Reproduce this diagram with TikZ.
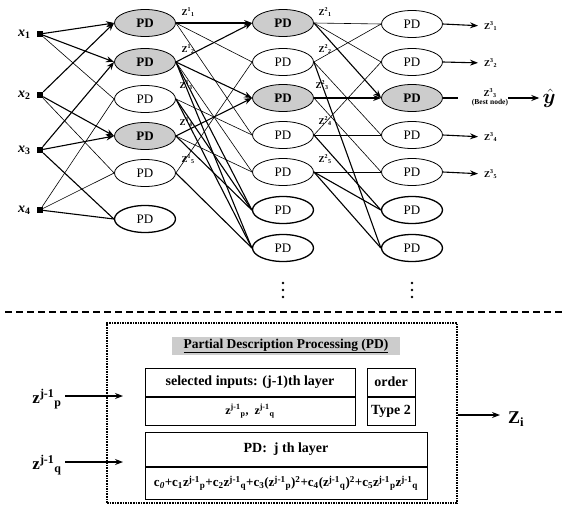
\documentclass[tikz,border=0pt]{standalone}
\usepackage{fontspec}
\setmainfont{Liberation Serif}
\usepackage{bm}
\usetikzlibrary{arrows.meta,positioning,shapes.geometric}
\newcommand{\zz}[2]{Z\textsuperscript{#1}\textsubscript{#2}}
\newcommand{\zs}[1]{z\textsuperscript{j-1}\textsubscript{#1}}
\newcommand{\xin}[1]{\textit{x}\textsubscript{#1}}

\begin{document}
\begin{tikzpicture}[x=1pt, y=-1pt,
  pd/.style={draw, ellipse, minimum width=61pt, minimum height=27pt, inner sep=0pt, line width=0.8pt, font=\fontsize{13}{13}\selectfont},
  pdsel/.style={pd, fill=gray!40, font=\fontsize{13}{13}\selectfont\bfseries},
  pdb/.style={pd, line width=1.3pt},
  inp/.style={fill, minimum size=6pt, inner sep=0pt},
  xl/.style={font=\fontsize{14}{14}\selectfont\bfseries, inner sep=0pt},
  zl/.style={font=\fontsize{9}{9}\selectfont\bfseries, inner sep=0pt},
  arr/.style={-{Stealth[length=8pt,width=6pt]}, line width=1.1pt},
  thk/.style={line width=1.1pt},
  lnk/.style={line width=0.6pt},
  dotc/.style={fill, circle, minimum size=2.6pt, inner sep=0pt},
  cell/.style={draw, line width=1pt, inner sep=0pt, font=\fontsize{14}{14}\selectfont\bfseries},
]
  \useasboundingbox (0,0) rectangle (573,506);

  % inputs
  \node[inp] (x1) at (40,34) {};
  \node[inp] (x2) at (40,95) {};
  \node[inp] (x3) at (40,150) {};
  \node[inp] (x4) at (40,210) {};
  \node[xl, left=6pt of x1] (lx1) {\xin{1}};
  \node[xl, left=6pt of x2] (lx2) {\xin{2}};
  \node[xl, left=6pt of x3] (lx3) {\xin{3}};
  \node[xl, left=6pt of x4] (lx4) {\xin{4}};

  % layer 1
  \node[pdsel] (a1) at (145,23) {PD};
  \node[pdsel] (a2) at (145,62) {PD};
  \node[pd] (a3) at (145,99) {PD};
  \node[pdsel] (a4) at (145,136) {PD};
  \node[pd] (a5) at (145,173) {PD};
  \node[pdb] (a6) at (145,219) {PD};

  % layer 2
  \node[pdsel] (b1) at (283,23) {PD};
  \node[pd] (b2) at (283,62) {PD};
  \node[pdsel] (b3) at (283,98) {PD};
  \node[pd] (b4) at (283,135) {PD};
  \node[pd] (b5) at (283,172) {PD};
  \node[pdb] (b6) at (283,210) {PD};
  \node[pdb] (b7) at (283,248) {PD};

  % layer 3
  \node[pd] (c1) at (412,24) {PD};
  \node[pd] (c2) at (412,62) {PD};
  \node[pdsel] (c3) at (412,98) {PD};
  \node[pd] (c4) at (412,135) {PD};
  \node[pd] (c5) at (412,172) {PD};
  \node[pdb] (c6) at (412,210) {PD};
  \node[pdb] (c7) at (412,248) {PD};

  % more nodes
  \node[dotc] (d21) at (283,283) {};
  \node[dotc] (d22) at (283,290) {};
  \node[dotc] (d23) at (283,297) {};
  \node[dotc] (d31) at (412,283) {};
  \node[dotc] (d32) at (412,290) {};
  \node[dotc] (d33) at (412,297) {};

  % z labels
  \node[zl] (z11) at (188,12) {\zz{1}{1}};
  \node[zl] (z12) at (188,49) {\zz{1}{2}};
  \node[zl] (z13) at (186,85) {\zz{1}{3}};
  \node[zl] (z14) at (186,122) {\zz{1}{4}};
  \node[zl] (z15) at (188,159) {\zz{1}{5}};
  \node[zl] (z21) at (325,12) {\zz{2}{1}};
  \node[zl] (z22) at (325,49) {\zz{2}{2}};
  \node[zl] (z23) at (322,85) {\zz{2}{3}};
  \node[zl] (z24) at (325,121) {\zz{2}{4}};
  \node[zl] (z25) at (325,159) {\zz{2}{5}};

  % inputs -> layer 1
  \draw[arr] (x1) -- (a1.west);
  \draw[arr] (x1) -- (a2.west);
  \draw[arr] (x2) -- (a1.west);
  \draw[arr] (x2) -- (a4.west);
  \draw[arr] (x3) -- (a2.west);
  \draw[arr] (x3) -- (a4.west);
  \draw[lnk] (x1) -- (a3.west);
  \draw[lnk] (x4) -- (a3.west);
  \draw[lnk] (x2) -- (a5.west);
  \draw[lnk] (x4) -- (a5.west);
  \draw[thk] (x3) -- (a6.west);
  \draw[thk] (x4) -- (a6.west);

  % layer 1 -> layer 2
  \draw[arr] (a1.east) -- (b1.west);
  \draw[arr] (a2.east) -- (b1.west);
  \draw[arr] (a2.east) -- (b3.west);
  \draw[arr] (a4.east) -- (b3.west);
  \draw[lnk] (a1.east) -- (b2.west);
  \draw[lnk] (a5.east) -- (b2.west);
  \draw[lnk] (a1.east) -- (b4.west);
  \draw[lnk] (a3.east) -- (b4.west);
  \draw[lnk] (a2.east) -- (b5.west);
  \draw[lnk] (a4.east) -- (b5.west);
  \draw[thk] (a2.east) -- (b6.west);
  \draw[thk] (a3.east) -- (b6.west);
  \draw[thk] (a4.east) -- (b6.west);
  \draw[thk] (a2.east) -- (b7.west);
  \draw[thk] (a3.east) -- (b7.west);
  \draw[thk] (a5.east) -- (b7.west);

  % layer 2 -> layer 3
  \draw[lnk] (b1.east) -- (c1.west);
  \draw[lnk] (b2.east) -- (c1.west);
  \draw[lnk] (b1.east) -- (c2.west);
  \draw[lnk] (b4.east) -- (c2.west);
  \draw[arr] (b1.east) -- (c3.west);
  \draw[arr] (b3.east) -- (c3.west);
  \draw[lnk] (b2.east) -- (c4.west);
  \draw[lnk] (b4.east) -- (c4.west);
  \draw[lnk] (b3.east) -- (c5.west);
  \draw[lnk] (b5.east) -- (c5.west);
  \draw[thk] (b4.east) -- (c6.west);
  \draw[thk] (b5.east) -- (c6.west);
  \draw[thk] (b2.east) -- (c7.west);
  \draw[thk] (b5.east) -- (c7.west);

  % outputs
  \node[zl, anchor=west] (o1) at (484,26) {\zz{3}{1}};
  \node[zl, anchor=west] (o2) at (484,63) {\zz{3}{2}};
  \node[zl, align=center] (o3) at (490,97) {\zz{3}{3}\\[-1pt]{\fontsize{7.5}{8}\selectfont(Best node)}};
  \node[zl, anchor=west] (o4) at (484,137) {\zz{3}{4}};
  \node[zl, anchor=west] (o5) at (484,174) {\zz{3}{5}};
  \node[inner sep=0pt] (yh) at (549,98) {\fontsize{22}{22}\selectfont$\hat{\bm{y}}$};
  \coordinate (c3e) at (458,98);
  \draw[arr, shorten >=6pt] (c1.east) -- (o1.west);
  \draw[arr, shorten >=6pt] (c2.east) -- (o2.west);
  \draw[arr, shorten >=6pt] (c4.east) -- (o4.west);
  \draw[arr, shorten >=6pt] (c5.east) -- (o5.west);
  \draw[thk] (c3.east) -- (c3e);
  \draw[arr, shorten >=3pt] (o3.east |- yh) -- (yh.west);

  % separator
  \coordinate (sepl) at (5,312);
  \coordinate (sepr) at (562,312);
  \draw[line width=1.3pt, dash pattern=on 7pt off 4pt] (sepl) -- (sepr);

  % PD block
  \node[draw, densely dotted, line width=1.6pt, minimum width=350pt, minimum height=180pt] (pdbox) at (282,413) {};
  \node[fill=gray!40, minimum width=228pt, minimum height=18pt, inner sep=0pt, font=\fontsize{13.5}{13.5}\selectfont\bfseries] (ttl) at (286,346) {\underline{Partial Description Processing (PD)}};
  \node[cell, minimum width=210pt, minimum height=28pt] (selT) at (250,382) {selected inputs: (j-1)th layer};
  \node[cell, minimum width=210pt, minimum height=28pt, below=0pt of selT, font=\fontsize{12}{12}\selectfont\bfseries] (selB) {\zs{p},\ \ \zs{q}};
  \node[cell, minimum width=48pt, minimum height=28pt] (ordT) at (391,382) {order};
  \node[cell, minimum width=48pt, minimum height=28pt, below=0pt of ordT] (ordB) {Type 2};
  \node[cell, minimum width=282pt, minimum height=34pt] (pdT) at (286,449) {PD:\ \ j th layer};
  \node[cell, minimum width=282pt, minimum height=32pt, below=0pt of pdT, font=\fontsize{13}{13}\selectfont\bfseries] (pdB) {c\textsubscript{\textit{0}}+c\textsubscript{1}\zs{p}+c\textsubscript{2}\zs{q}+c\textsubscript{3}(\zs{p})\textsuperscript{2}+c\textsubscript{4}(\zs{q})\textsuperscript{2}+c\textsubscript{5}\zs{p}\zs{q}};

  % in / out
  \node[font=\fontsize{17}{17}\selectfont\bfseries] (zp) at (47,399) {\zs{p}};
  \node[font=\fontsize{17}{17}\selectfont\bfseries] (zq) at (47,465) {\zs{q}};
  \coordinate (pin1) at (123,396);
  \coordinate (pin2) at (123,462);
  \draw[arr] (zp.east |- pin1) -- (pin1);
  \draw[arr] (zq.east |- pin2) -- (pin2);
  \node[font=\fontsize{18}{18}\selectfont\bfseries] (zi) at (516,419) {Z\textsubscript{i}};
  \draw[arr] (pdbox.east |- 0,415) -- (500,415);
\end{tikzpicture}
\end{document}
